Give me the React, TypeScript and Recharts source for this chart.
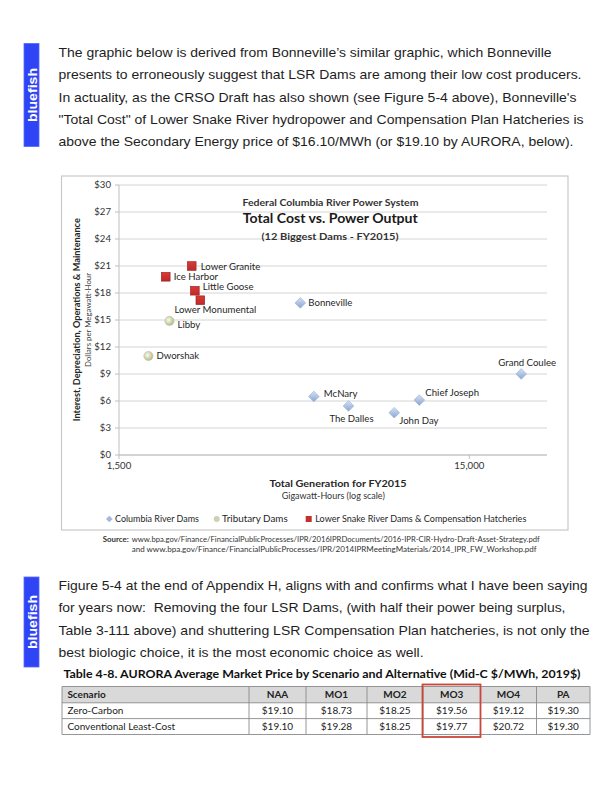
import React from 'react';
import { ScatterChart, Scatter, XAxis, YAxis, CartesianGrid } from 'recharts';

// ---------- chart data ----------
const columbiaNames = ['Bonneville', 'McNary', 'The Dalles', 'John Day', 'Chief Joseph', 'Grand Coulee'];
const columbiaGeneration = [4940, 5400, 6780, 9160, 10800, 21100];
const columbiaCost = [16.9, 6.5, 5.45, 4.7, 6.1, 9.0];

const tributaryNames = ['Libby', 'Dworshak'];
const tributaryGeneration = [2090, 1820];
const tributaryCost = [14.9, 11.0];

const lsrNames = ['Lower Granite', 'Ice Harbor', 'Little Goose', 'Lower Monumental'];
const lsrGeneration = [2420, 2040, 2470, 2560];
const lsrCost = [21.0, 19.8, 18.25, 17.2];

const xTicks = [1500, 15000];
const yTicks = [0, 3, 6, 9, 12, 15, 18, 21, 24, 27, 30];

const seriesNames = ['Columbia River Dams', 'Tributary Dams', 'Lower Snake River Dams & Compensation Hatcheries'];

// ---------- table data ----------
const tableColumns = ['Scenario', 'NAA', 'MO1', 'MO2', 'MO3', 'MO4', 'PA'];
const tableRowLabels = ['Zero-Carbon', 'Conventional Least-Cost'];
const zeroCarbonPrices = [19.1, 18.73, 18.25, 19.56, 19.12, 19.3];
const leastCostPrices = [19.1, 19.28, 18.25, 19.77, 20.72, 19.3];

// ---------- text ----------
const paragraph1 = [
  'The graphic below is derived from Bonneville\u2019s similar graphic, which Bonneville',
  'presents to erroneously suggest that LSR Dams are among their low cost producers.',
  "In actuality, as the CRSO Draft has also shown (see Figure 5-4 above), Bonneville's",
  '"Total Cost" of Lower Snake River hydropower and Compensation Plan Hatcheries is',
  'above the Secondary Energy price of $16.10/MWh (or $19.10 by AURORA, below).',
];
const paragraph1Widths = [493, 523, 518, 525, 515];
const paragraph2 = [
  'Figure 5-4 at the end of Appendix H, aligns with and confirms what I have been saying',
  'for years now:  Removing the four LSR Dams, (with half their power being surplus,',
  'Table 3-111 above) and shuttering LSR Compensation Plan hatcheries, is not only the',
  'best biologic choice, it is the most economic choice as well.',
];
const paragraph2Widths = [529, 507, 531, 365];

// ---------- layout (not data) ----------
const labelPlacement: Record<string, { dx: number; dy: number; anchor: 'start' | 'middle' }> = {
  'Lower Granite': { dx: 9, dy: 1, anchor: 'start' },
  'Ice Harbor': { dx: 8, dy: 0, anchor: 'start' },
  'Little Goose': { dx: 8, dy: -4, anchor: 'start' },
  'Lower Monumental': { dx: 15, dy: 9, anchor: 'middle' },
  Libby: { dx: 8, dy: 4, anchor: 'start' },
  Dworshak: { dx: 8, dy: 0, anchor: 'start' },
  Bonneville: { dx: 8, dy: 0, anchor: 'start' },
  'Grand Coulee': { dx: 6, dy: -11, anchor: 'middle' },
  McNary: { dx: 10, dy: -3, anchor: 'start' },
  'The Dalles': { dx: 3, dy: 13, anchor: 'middle' },
  'John Day': { dx: 5, dy: 8, anchor: 'start' },
  'Chief Joseph': { dx: 6, dy: -7, anchor: 'start' },
};

const colBounds = [62, 249, 306, 367, 423, 480.5, 536.5, 590];
const rowBounds = [686.5, 702.8, 718.6, 734.5];

const columbiaData = columbiaNames.map((name, i) => ({ name, gen: columbiaGeneration[i], cost: columbiaCost[i] }));
const tributaryData = tributaryNames.map((name, i) => ({ name, gen: tributaryGeneration[i], cost: tributaryCost[i] }));
const lsrData = lsrNames.map((name, i) => ({ name, gen: lsrGeneration[i], cost: lsrCost[i] }));

const CHART_FONT = 'Lato, "Open Sans", sans-serif';
const BODY_FONT = '"Liberation Sans", Arial, sans-serif';

const PointLabel = ({ cx, cy, name }: { cx: number; cy: number; name: string }) => {
  const p = labelPlacement[name] ?? { dx: 8, dy: 0, anchor: 'start' as const };
  return (
    <text x={cx + p.dx} y={cy + p.dy} dy="0.35em" textAnchor={p.anchor} fontFamily={CHART_FONT} fontSize={9.6} fill="#262626">
      {name}
    </text>
  );
};

const getName = (props: any): string => (props.payload && props.payload.name) || props.name || '';

const DiamondShape = (props: any) => {
  const { cx, cy } = props;
  const r = 5.3;
  return (
    <g>
      <path d={`M${cx},${cy - r} L${cx + r},${cy} L${cx},${cy + r} L${cx - r},${cy} Z`} fill="url(#gradDiamond)" stroke="#9cb2d8" strokeWidth={0.7} />
      <PointLabel cx={cx} cy={cy} name={getName(props)} />
    </g>
  );
};

const CircleShape = (props: any) => {
  const { cx, cy } = props;
  return (
    <g>
      <circle cx={cx} cy={cy} r={4.6} fill="url(#gradCircle)" stroke="#c4c8a6" strokeWidth={0.7} />
      <PointLabel cx={cx} cy={cy} name={getName(props)} />
    </g>
  );
};

const SquareShape = (props: any) => {
  const { cx, cy } = props;
  const s = 8.6;
  return (
    <g>
      <rect x={cx - s / 2} y={cy - s / 2} width={s} height={s} fill="url(#gradSquare)" stroke="#9c2323" strokeWidth={0.7} />
      <PointLabel cx={cx} cy={cy} name={getName(props)} />
    </g>
  );
};

const BlueFish = ({ y, h }: { y: number; h: number }) => (
  <g>
    <rect x={24} y={y} width={15} height={h} fill="#2f45f5" stroke="#5468ff" strokeWidth={0.8} />
    <text
      transform={`translate(31.8,${y + h / 2}) rotate(-90)`}
      textAnchor="middle"
      dy="0.36em"
      fontFamily={BODY_FONT}
      fontWeight="bold"
      fontSize={13.5}
      fill="#ffffff"
      textLength={54}
      lengthAdjust="spacingAndGlyphs"
    >
      bluefish
    </text>
  </g>
);

const fmtPrice = (v: number) => `$${v.toFixed(2)}`;

export default function App() {
  const tableRows = [zeroCarbonPrices, leastCostPrices];
  return (
    <div style={{ position: 'absolute', left: 0, top: 0, width: 612, height: 792, background: '#fff', overflow: 'hidden' }}>
      {/* gradient definitions */}
      <svg width={0} height={0} style={{ position: 'absolute' }}>
        <defs>
          <linearGradient id="gradDiamond" x1="0" y1="0" x2="0" y2="1">
            <stop offset="0%" stopColor="#d6e2f3" />
            <stop offset="100%" stopColor="#89a5d3" />
          </linearGradient>
          <radialGradient id="gradCircle" cx="0.4" cy="0.4" r="0.6">
            <stop offset="0%" stopColor="#fbfbf2" />
            <stop offset="100%" stopColor="#b3ba8a" />
          </radialGradient>
          <linearGradient id="gradSquare" x1="0" y1="0" x2="0" y2="1">
            <stop offset="0%" stopColor="#dc3a36" />
            <stop offset="100%" stopColor="#bd2a28" />
          </linearGradient>
        </defs>
      </svg>

      {/* background layer: chart frame */}
      <svg width={612} height={792} style={{ position: 'absolute', left: 0, top: 0 }}>
        <rect x={61.5} y={176} width={506.5} height={354} fill="#ffffff" stroke="#c9c9c9" strokeWidth={1.2} />
      </svg>

      {/* the chart */}
      <div style={{ position: 'absolute', left: 61, top: 176 }}>
        <ScatterChart width={507} height={354} margin={{ top: 9, right: 21, bottom: 55, left: 0 }}>
          <CartesianGrid vertical={false} stroke="#d4d4d4" strokeWidth={1} />
          <XAxis
            type="number"
            dataKey="gen"
            scale="log"
            domain={[1500, 25000]}
            ticks={xTicks}
            tickFormatter={(v: number) => v.toLocaleString('en-US')}
            height={20}
            stroke="#bfbfbf"
            tickSize={4}
            tickMargin={3}
            tick={{ fontSize: 9.6, fill: '#333', fontFamily: CHART_FONT }}
          />
          <YAxis
            type="number"
            dataKey="cost"
            domain={[0, 30]}
            ticks={yTicks}
            tickFormatter={(v: number) => `$${v}`}
            width={58}
            stroke="#bfbfbf"
            tickSize={4}
            tickMargin={4}
            tick={{ fontSize: 9.6, fill: '#333', fontFamily: CHART_FONT }}
          />
          <Scatter name={seriesNames[0]} data={columbiaData} shape={DiamondShape} isAnimationActive={false} />
          <Scatter name={seriesNames[1]} data={tributaryData} shape={CircleShape} isAnimationActive={false} />
          <Scatter name={seriesNames[2]} data={lsrData} shape={SquareShape} isAnimationActive={false} />
        </ScatterChart>
      </div>

      {/* foreground layer: texts, titles, legend, table */}
      <svg width={612} height={792} style={{ position: 'absolute', left: 0, top: 0, pointerEvents: 'none' }}>
        <BlueFish y={43.5} h={103} />
        <BlueFish y={577} h={90} />

        {paragraph1.map((line, i) => (
          <text
            key={`p1-${i}`}
            x={58.5}
            y={52 + i * 22.35 + 4.8}
            fontFamily={BODY_FONT}
            fontSize={13.2}
            fill="#1e1e1e"
            textLength={paragraph1Widths[i]}
            lengthAdjust="spacingAndGlyphs"
            style={{ whiteSpace: 'pre' }}
          >
            {line}
          </text>
        ))}
        {paragraph2.map((line, i) => (
          <text
            key={`p2-${i}`}
            x={58.5}
            y={585 + i * 22.4 + 4.8}
            fontFamily={BODY_FONT}
            fontSize={13.2}
            fill="#1e1e1e"
            textLength={paragraph2Widths[i]}
            lengthAdjust="spacingAndGlyphs"
            style={{ whiteSpace: 'pre' }}
          >
            {line}
          </text>
        ))}

        {/* chart titles */}
        <text x={330.5} y={202.7} dy="0.35em" textAnchor="middle" fontFamily={CHART_FONT} fontWeight="bold" fontSize={9.8} fill="#333" textLength={176} lengthAdjust="spacingAndGlyphs">
          Federal Columbia River Power System
        </text>
        <text x={330.3} y={218.3} dy="0.35em" textAnchor="middle" fontFamily={CHART_FONT} fontWeight="bold" fontSize={13.2} fill="#1a1a1a" textLength={175} lengthAdjust="spacingAndGlyphs">
          Total Cost vs. Power Output
        </text>
        <text x={330} y={236.5} dy="0.35em" textAnchor="middle" fontFamily={CHART_FONT} fontWeight="bold" fontSize={9.8} fill="#333" textLength={137} lengthAdjust="spacingAndGlyphs">
          (12 Biggest Dams - FY2015)
        </text>

        {/* axis titles */}
        <text transform="translate(76.7,319.7) rotate(-90)" dy="0.35em" textAnchor="middle" fontFamily={CHART_FONT} fontWeight="bold" fontSize={9.6} fill="#262626" textLength={203} lengthAdjust="spacingAndGlyphs">
          Interest, Depreciation, Operations &amp; Maintenance
        </text>
        <text transform="translate(88.3,320) rotate(-90)" dy="0.35em" textAnchor="middle" fontFamily={CHART_FONT} fontSize={8} fill="#404040" textLength={94} lengthAdjust="spacingAndGlyphs">
          Dollars per Megawatt-Hour
        </text>
        <text x={338} y={483.7} dy="0.35em" textAnchor="middle" fontFamily={CHART_FONT} fontWeight="bold" fontSize={10.2} fill="#262626" textLength={137} lengthAdjust="spacingAndGlyphs">
          Total Generation for FY2015
        </text>
        <text x={333.3} y={495.5} dy="0.35em" textAnchor="middle" fontFamily={CHART_FONT} fontSize={9.2} fill="#333" textLength={103} lengthAdjust="spacingAndGlyphs">
          Gigawatt-Hours (log scale)
        </text>

        {/* legend */}
        <path d="M109.3,516 L112.3,519 L109.3,522 L106.3,519 Z" fill="#a3b9df" stroke="#8ea7d3" strokeWidth={0.4} />
        <text x={115} y={519} dy="0.35em" fontFamily={CHART_FONT} fontSize={9.6} fill="#262626" textLength={84} lengthAdjust="spacingAndGlyphs">
          {seriesNames[0]}
        </text>
        <circle cx={216.7} cy={519} r={2.7} fill="#cdd1b5" stroke="#b9bd9c" strokeWidth={0.4} />
        <text x={222} y={519} dy="0.35em" fontFamily={CHART_FONT} fontSize={9.6} fill="#262626" textLength={65.7} lengthAdjust="spacingAndGlyphs">
          {seriesNames[1]}
        </text>
        <rect x={305.7} y={516} width={6} height={6} fill="#c4302d" />
        <text x={315.3} y={519} dy="0.35em" fontFamily={CHART_FONT} fontSize={9.6} fill="#262626" textLength={211} lengthAdjust="spacingAndGlyphs">
          {seriesNames[2]}
        </text>

        {/* source */}
        <text x={102.7} y={540} dy="0.35em" fontFamily={CHART_FONT} fontWeight="bold" fontSize={7} fill="#333" textLength={26} lengthAdjust="spacingAndGlyphs">
          Source:
        </text>
        <text x={131.7} y={540} dy="0.35em" fontFamily={CHART_FONT} fontSize={7} fill="#333" textLength={408} lengthAdjust="spacingAndGlyphs">
          www.bpa.gov/Finance/FinancialPublicProcesses/IPR/2016IPRDocuments/2016-IPR-CIR-Hydro-Draft-Asset-Strategy.pdf
        </text>
        <text x={131.7} y={549.5} dy="0.35em" fontFamily={CHART_FONT} fontSize={7} fill="#333" textLength={405} lengthAdjust="spacingAndGlyphs">
          and www.bpa.gov/Finance/FinancialPublicProcesses/IPR/2014IPRMeetingMaterials/2014_IPR_FW_Workshop.pdf
        </text>

        {/* table */}
        <text x={63.5} y={673.5} dy="0.35em" fontFamily={CHART_FONT} fontWeight="bold" fontSize={12} fill="#111" textLength={517} lengthAdjust="spacingAndGlyphs">
          Table 4-8. AURORA Average Market Price by Scenario and Alternative (Mid-C $/MWh, 2019$)
        </text>
        <rect x={colBounds[0]} y={rowBounds[0]} width={colBounds[7] - colBounds[0]} height={rowBounds[1] - rowBounds[0]} fill="#d9d9d9" />
        {rowBounds.map((y, i) => (
          <line key={`rl-${i}`} x1={colBounds[0]} x2={colBounds[7]} y1={y} y2={y} stroke="#8a8a8a" strokeWidth={0.9} />
        ))}
        {colBounds.map((x, i) => (
          <line key={`cl-${i}`} x1={x} x2={x} y1={rowBounds[0]} y2={rowBounds[3]} stroke="#8a8a8a" strokeWidth={0.9} />
        ))}
        {tableColumns.map((c, i) => (
          <text
            key={`th-${i}`}
            x={i === 0 ? 67.4 : (colBounds[i] + colBounds[i + 1]) / 2}
            y={(rowBounds[0] + rowBounds[1]) / 2}
            dy="0.35em"
            textAnchor={i === 0 ? 'start' : 'middle'}
            fontFamily={CHART_FONT}
            fontWeight="bold"
            fontSize={10}
            fill="#222"
          >
            {c}
          </text>
        ))}
        {tableRowLabels.map((label, r) => {
          const cy = (rowBounds[r + 1] + rowBounds[r + 2]) / 2;
          return (
            <g key={`tr-${r}`}>
              <text x={67.4} y={cy} dy="0.35em" fontFamily={CHART_FONT} fontSize={10} fill="#222">
                {label}
              </text>
              {tableRows[r].map((v, c) => (
                <text
                  key={`td-${r}-${c}`}
                  x={(colBounds[c + 1] + colBounds[c + 2]) / 2}
                  y={cy}
                  dy="0.35em"
                  textAnchor="middle"
                  fontFamily={CHART_FONT}
                  fontSize={10}
                  fill="#222"
                >
                  {fmtPrice(v)}
                </text>
              ))}
            </g>
          );
        })}
        <rect x={422.5} y={684.5} width={58} height={52.5} fill="none" stroke="#c9463d" strokeWidth={1.8} />
      </svg>
    </div>
  );
}
